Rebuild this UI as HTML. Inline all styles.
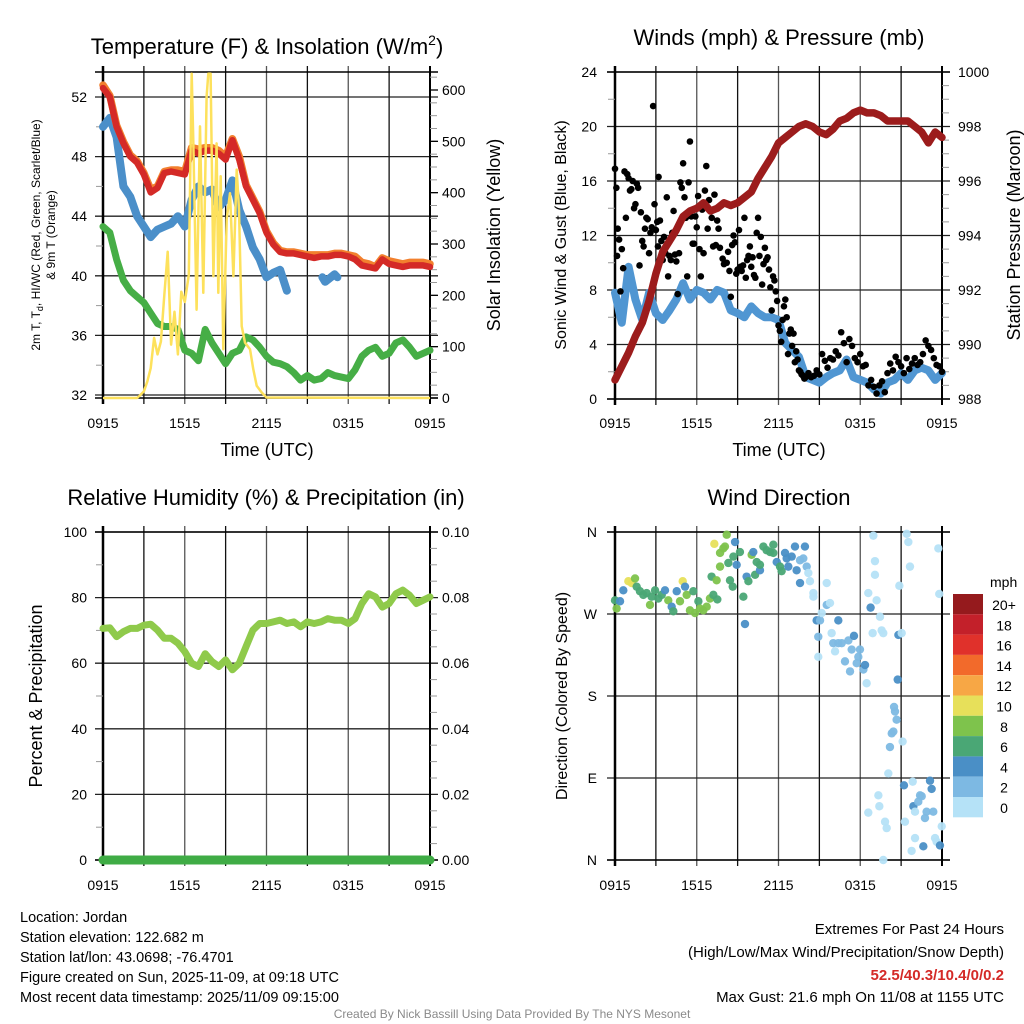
<!DOCTYPE html>
<html><head><meta charset="utf-8"><style>
html,body{margin:0;padding:0;background:#fff;}
svg{display:block;font-family:"Liberation Sans",sans-serif;}
</style></head><body>
<svg id="chart" width="1024" height="1024" viewBox="0 0 1024 1024"></svg>
<script>
// ---------- DATA ----------
const timeTickLabels = ["0915","1515","2115","0315","0915"];
const timeTickHours = [0,6,12,18,24];
const halfHourTimes = [0,0.5,1,1.5,2,2.5,3,3.5,4,4.5,5,5.5,6,6.5,7,7.5,8,8.5,9,9.5,10,10.5,11,11.5,12,12.5,13,13.5,14,14.5,15,15.5,16,16.5,17,17.5,18,18.5,19,19.5,20,20.5,21,21.5,22,22.5,23,23.5,24];
const tempRed = [52.6,52.0,50.0,48.9,48.0,47.6,46.8,45.6,45.9,46.9,47.0,46.9,46.8,48.4,48.2,48.4,48.4,48.2,47.8,49.1,47.8,46.0,45.1,44.2,42.9,42.1,41.6,41.5,41.5,41.4,41.3,41.2,41.3,41.3,41.4,41.4,41.3,41.1,40.7,40.6,40.5,41.1,40.8,40.7,40.6,40.7,40.7,40.7,40.6];
const temp9mOrange = [52.8,52.1,50.1,49.0,48.1,47.7,46.9,45.8,46.0,47.0,47.1,47.1,47.0,48.6,48.5,48.6,48.6,48.4,48.0,49.2,48.0,46.1,45.2,44.3,43.0,42.2,41.7,41.6,41.6,41.5,41.4,41.4,41.4,41.4,41.5,41.5,41.4,41.3,40.9,40.8,40.6,41.2,41.0,40.9,40.8,40.9,40.9,40.9,40.8];
const windChillBlue = [50.0,50.6,49.3,46.0,45.3,44.0,43.3,42.6,43.1,43.3,43.5,44.0,43.3,45.1,46.0,45.6,45.8,44.6,45.1,46.4,44.4,43.3,41.9,41.1,39.9,40.2,40.4,39.0,null,null,null,null,null,null,null,null,null,null,null,null,null,null,null,null,null,null,null,null,null];
const windChillLateTimes = [16.1,16.3,17.0,17.2];
const windChillLate = [39.9,39.6,40.1,39.9];
const dewPointGreen = [43.3,42.9,41.1,39.7,39.0,38.6,38.2,37.5,36.8,36.6,36.6,36.4,35.0,34.8,34.3,36.4,35.5,34.8,34.1,34.8,35.0,35.9,35.7,35.2,34.6,34.2,34.1,33.9,33.5,33.0,33.3,33.0,33.1,33.5,33.3,33.2,33.1,33.7,34.6,35.0,35.2,34.6,34.8,35.5,35.7,35.2,34.6,34.8,35.0];
const solarTimes = [0,2.5,2.75,3,3.25,3.5,3.75,4,4.25,4.5,4.75,5,5.25,5.5,5.75,6,6.3,6.51,6.63,6.87,7.12,7.36,7.6,7.73,7.9,8.1,8.34,8.46,8.64,8.83,9.08,9.32,9.57,9.81,9.98,10.18,10.42,10.79,11.03,11.28,11.64,12.0,24];
const solarValues = [0,0,6,13,32,58,117,85,110,200,285,104,168,85,207,187,240,632,500,172,529,205,587,632,632,237,496,205,432,95,348,399,237,445,367,140,108,95,56,24,11,1,0];
const pressureMaroon = [988.7,989.2,989.7,990.3,990.8,991.6,992.6,993.4,993.8,994.2,994.7,994.9,995.0,995.2,994.9,995.0,995.2,995.1,995.2,995.4,995.6,996.1,996.5,996.9,997.4,997.6,997.8,998.0,998.1,998.0,997.8,997.7,997.9,998.2,998.3,998.5,998.6,998.5,998.5,998.4,998.2,998.2,998.2,998.2,998.0,997.8,997.4,997.8,997.6];
const sonicWind = [7.8,5.6,9.7,7.3,5.8,7.8,6.3,5.8,6.5,7.3,8.5,7.3,8.0,7.8,7.3,8.0,7.8,6.5,6.3,6.0,6.8,6.3,6.0,6.0,5.8,4.1,3.6,3.1,1.6,1.4,1.2,1.6,1.9,2.1,2.9,1.6,1.4,1.2,0.7,0.4,1.2,1.4,1.9,1.4,2.1,2.3,2.1,1.4,1.9];
const gustTimes = [0,0.1,0.15,0.2,0.3,0.4,0.5,0.6,0.7,0.8,0.9,1.0,1.1,1.2,1.3,1.4,1.5,1.6,1.7,1.8,1.9,2.0,2.1,2.2,2.3,2.4,2.5,2.6,2.7,2.8,2.9,3.0,3.1,3.15,3.2,3.3,3.4,3.5,3.6,3.7,3.8,3.9,4.0,4.1,4.2,4.3,4.4,4.5,4.6,4.7,4.8,4.9,5.0,5.1,5.2,5.3,5.4,5.5,5.6,5.7,5.8,5.9,6.0,6.1,6.2,6.3,6.4,6.5,6.6,6.7,6.8,6.9,7.0,7.1,7.2,7.3,7.4,7.5,7.6,7.7,7.8,7.9,8.0,8.1,8.2,8.3,8.4,8.5,8.6,8.7,8.8,8.9,9.0,9.1,9.2,9.3,9.4,9.5,9.6,9.7,9.8,9.9,10.0,10.1,10.2,10.3,10.4,10.5,10.6,10.7,10.8,10.9,11.0,11.1,11.2,11.3,11.4,11.5,11.6,11.7,11.8,11.9,12.0,12.1,12.2,12.3,12.4,12.5,12.6,12.7,12.8,12.9,13.0,13.1,13.2,13.3,13.4,13.5,13.6,13.7,13.8,13.9,14.0,14.2,14.4,14.6,14.8,15.0,15.2,15.4,15.6,15.8,16.0,16.2,16.4,16.6,16.8,17.0,17.2,17.4,17.6,17.8,18.0,18.2,18.4,18.6,18.8,19.0,19.2,19.4,19.6,19.8,20.0,20.2,20.4,20.6,20.8,21.0,21.2,21.4,21.6,21.8,22.0,22.2,22.4,22.6,22.8,23.0,23.2,23.4,23.6,23.8,24.0];
const gustValues = [16.9,15.5,10.5,12.5,11.7,7.9,11,9.6,16.7,13.3,16.5,16.2,15.3,15.4,16,14.0,14.3,15.8,15.5,9.8,13.7,11.6,11.2,12.5,13.3,13.2,10.7,12.2,12.6,21.5,14.3,12.4,13.0,11.2,16.3,13.1,11.6,10.2,11.9,10.7,14.8,9.0,10.5,10.2,12.2,13.8,10.6,10.1,7.7,10.7,15.9,15.5,17.3,14.8,13.3,9.0,15.9,18.9,13.4,11.4,11.4,13.4,12.6,14.9,11.0,9.0,13.9,10.7,15.3,17.1,12.5,14.6,13.8,13.3,11.2,15.0,11.3,13.1,12.5,11.1,14.2,10.3,9.9,10.0,10.0,10.8,9.4,7.5,11.3,12.0,11.5,9.2,9.5,12.4,9.7,9.4,9.8,13.3,8.9,10.2,10.5,11.2,9.7,10.4,9.1,8.9,12.2,13.3,10.5,11.9,8.4,9.9,11.1,10.2,10.4,9.5,8.2,6.5,9.0,8.7,7.9,7.2,5.4,5.0,4.2,5.8,6.8,7.3,6.0,3.3,4.8,5.1,3.9,4.8,2.7,3.5,2.9,2.1,2.0,1.8,1.7,1.5,1.6,1.9,1.6,1.7,2.1,1.8,3.3,2.8,2.3,3.0,2.9,3.5,3.2,4.9,4.1,2.7,4.4,3.9,3.0,2.7,3.3,2.4,2.5,1.0,1.4,0.9,0.4,1.0,1.3,0.5,1.9,2.6,2.1,3.1,2.7,2.4,1.9,3.0,2.2,2.6,3.0,2.5,2.7,3.3,4.3,3.9,3.6,3.0,2.5,2.4,2.0];
const rhValues = [70.6,70.8,68.1,69.6,70.6,70.6,71.6,71.9,70.1,67.6,67.6,66.1,63.5,60.0,59.0,62.9,60.5,59.0,61.0,58.0,60.0,65.1,70.1,72.1,72.1,72.6,73.1,72.1,72.6,71.1,72.6,72.1,72.6,73.6,73.1,73.1,72.1,73.6,78.2,81.2,80.2,77.1,78.2,81.2,82.3,80.7,78.2,79.2,80.2];
const precipValues = [0,0,0,0,0,0,0,0,0,0,0,0,0,0,0,0,0,0,0,0,0,0,0,0,0,0,0,0,0,0,0,0,0,0,0,0,0,0,0,0,0,0,0,0,0,0,0,0,0];
const dirTimes = [0,0.12,0.37,0.61,0.98,1.22,1.47,1.59,1.83,2.08,2.32,2.57,2.69,2.94,3.18,3.43,3.67,3.91,4.16,4.28,4.53,4.77,4.97,5.14,5.26,5.5,5.75,5.87,6.12,6.24,6.48,6.73,6.97,7.22,7.51,7.29,7.09,7.46,7.71,7.71,7.95,8.07,8.2,8.32,8.44,8.64,8.69,8.81,8.93,9.17,9.42,9.54,9.66,9.79,10.03,10.15,10.28,10.4,10.64,10.64,10.89,11.13,11.38,11.62,11.62,11.87,12.11,12.23,12.48,12.6,12.72,12.97,13.21,13.33,13.58,13.82,13.94,14.07,14.19,13.58,14.31,14.56,14.56,14.8,14.92,15.05,14.92,15.17,15.54,15.54,15.78,15.9,16.02,16.15,16.39,16.39,16.64,16.88,17.13,17.25,17.37,17.54,17.74,17.86,17.98,18.23,18.35,18.47,18.59,18.76,18.96,19.08,19.08,19.2,19.45,19.57,19.69,18.91,19.69,19.33,19.4,18.59,19.82,19.94,20.06,20.18,20.31,20.43,20.48,20.55,20.67,20.75,20.8,20.87,21.04,21.11,21.21,21.28,21.41,21.53,21.65,21.77,21.85,21.9,22.02,22.02,22.26,22.39,22.51,22.63,22.75,22.87,23.12,23.24,23.36,23.49,23.61,23.73,23.8,23.85,23.98];
const dirDegrees = [285,276,284,296,306,304,309,300,295,291,293,280,289,296,287,291,296,285,278,273,295,284,306,300,291,274,295,271,284,276,274,278,287,291,286,347,311,307,322,337,342,344,357,326,307,300,333,349,324,338,289,259,311,306,335,338,313,327,318,324,344,340,338,346,337,327,322,317,337,331,322,333,344,318,329,331,344,322,315,304,306,293,289,263,245,263,223,271,304,280,282,249,238,229,263,238,238,218,241,207,231,246,216,223,231,209,214,194,293,277,356,328,313,285,267,252,249,249,0,71,59,52,42,35,95,124,139,141,168,163,154,198,247,301,249,130,82,42,358,349,322,10,86,59,24,53,64,71,70,15,46,53,87,78,53,24,20,342,292,16,37];
const dirSpeeds = [6,8,4,4,10,10,8,6,6,6,6,8,6,6,6,6,4,8,4,6,4,8,10,4,8,8,6,8,6,8,8,8,8,6,6,10,6,8,8,8,8,8,8,6,6,6,6,4,4,6,6,4,4,6,8,4,6,6,4,6,6,6,6,6,6,4,6,6,4,4,4,4,4,4,2,2,4,2,0,4,0,0,0,4,2,2,0,0,0,2,0,0,2,0,4,2,2,2,2,2,2,4,2,2,2,2,4,0,0,4,0,0,0,0,0,0,0,0,0,0,0,0,0,0,0,2,2,2,2,2,2,4,4,0,0,0,4,0,0,0,0,0,0,4,0,0,2,2,2,4,2,2,4,4,2,0,0,0,0,4,0];
const speedLegendLabels = ["20+","18","16","14","12","10","8","6","4","2","0"];
const speedLegendColors = ["#951a1d","#c3202a","#e0312b","#f26a2b","#f7a745","#e7e05a","#7ec34c","#4aa775","#4a8fc6","#7db9e3","#b5e2f7"];

// ---------- HELPERS ----------
const NS = "http://www.w3.org/2000/svg";
const svg = document.getElementById("chart");
function mk(tag, attrs, parent) {
  const el = document.createElementNS(NS, tag);
  for (const k in attrs) el.setAttribute(k, attrs[k]);
  (parent || svg).appendChild(el);
  return el;
}
function txt(s, attrs, parent) { const t = mk("text", attrs, parent); t.textContent = s; return t; }

const P = {
  tl: {x0:103, x1:430, y0:72, y1:398},
  tr: {x0:615, x1:942, y0:72, y1:399},
  bl: {x0:103, x1:430, y0:532, y1:860},
  br: {x0:615, x1:942, y0:532, y1:860}
};
function xScale(p, t) { return p.x0 + t * (p.x1 - p.x0) / 24; }
const yTemp = v => 395 - (v - 32) * 14.9;
const ySolar = v => 398 - v * (308 / 600);
const yWind = v => 399 - v * (327 / 24);
const yPres = v => 399 - (v - 988) * (327 / 12);
const yRH = v => 860 - v * 3.28;
const yPrecip = v => 860 - v * 3280;
const yDir = v => 860 - v * 328 / 360;

function grid(p, yTicks, name) {
  const g = mk("g", {});
  
  
  for (let h = 3; h < 24; h += 3) {
    const x = xScale(p, h);
    mk("line", {x1:x, x2:x, y1:p.y0-6, y2:p.y1+6, stroke:(h%6===0?"#555":"#111"), "stroke-width":1.3}, g);
  }
  yTicks.forEach(y => mk("line", {x1:p.x0-8, x2:p.x1+8, y1:y, y2:y, stroke:"#222", "stroke-width":1.3}, g));
  mk("line", {x1:p.x0, x2:p.x0, y1:p.y0-6, y2:p.y1+6, stroke:"#000", "stroke-width":2.5}, g);
  mk("line", {x1:p.x1, x2:p.x1, y1:p.y0-6, y2:p.y1+6, stroke:"#000", "stroke-width":2}, g);
  mk("line", {x1:p.x0-8, x2:p.x1+8, y1:p.y0, y2:p.y0, stroke:"#000", "stroke-width":1.5}, g);
  mk("line", {x1:p.x0-8, x2:p.x1+8, y1:p.y1, y2:p.y1, stroke:"#000", "stroke-width":1.5}, g);
}
function minorRight(p, vals, f) {
  vals.forEach(v => mk("line", {x1:p.x1, x2:p.x1+7, y1:f(v), y2:f(v), stroke:"#999", "stroke-width":1}));
}
function minorLeft(p, vals, f) {
  vals.forEach(v => mk("line", {x1:p.x0-7, x2:p.x0, y1:f(v), y2:f(v), stroke:"#999", "stroke-width":1}));
}
function xLabels(p, ylab, name) {
  timeTickHours.forEach((h, i) => {
    const t = txt(timeTickLabels[i], {x:xScale(p,h), y:ylab, "text-anchor":"middle", "font-size":14});
    
    
  });
}
function linePath(p, times, vals, yf) {
  let d = "", pen = false;
  times.forEach((t, i) => {
    const v = vals[i];
    if (v === null || v === undefined) { pen = false; return; }
    d += (pen ? "L" : "M") + xScale(p, t).toFixed(1) + " " + yf(v).toFixed(1) + " ";
    pen = true;
  });
  return d;
}

// ---------- TITLES ----------
let e;
e = txt("", {x:267, y:54, "text-anchor":"middle", "font-size":22});
e.innerHTML = 'Temperature (F) &amp; Insolation (W/m<tspan dy="-9" font-size="14">2</tspan><tspan dy="9">)</tspan>';


e = txt("Winds (mph) & Pressure (mb)", {x:779, y:45, "text-anchor":"middle", "font-size":22});


e = txt("Relative Humidity (%) & Precipitation (in)", {x:266, y:505, "text-anchor":"middle", "font-size":22});


e = txt("Wind Direction", {x:779, y:505, "text-anchor":"middle", "font-size":22});



// ---------- PANEL 1: TEMPERATURE ----------
const p1 = P.tl;
const tempTicks = [32,36,40,44,48,52];
grid(p1, tempTicks.map(yTemp), 'temperature');
minorLeft(p1, [34,38,42,46,50], yTemp);
minorRight(p1, [25,50,75,100,125,150,175,200,225,250,275,300,325,350,375,400,425,450,475,500,525,550,575,600,625], ySolar);
[0,100,200,300,400,500,600].forEach(v => mk("line", {x1:p1.x1, x2:p1.x1+8, y1:ySolar(v), y2:ySolar(v), stroke:"#000", "stroke-width":1.3}));
tempTicks.forEach(v => {
  e = txt(String(v), {x:87, y:yTemp(v)+5, "text-anchor":"end", "font-size":14});
  
  
});
[0,100,200,300,400,500,600].forEach(v => {
  e = txt(String(v), {x:442, y:ySolar(v)+5, "font-size":14});
  
  
});
xLabels(p1, 428, 'temperature');
e = txt("Time (UTC)", {x:267, y:456, "text-anchor":"middle", "font-size":18});


e = txt("", {transform:"translate(40,235) rotate(-90)", "text-anchor":"middle", "font-size":12});
e.innerHTML = '2m T, T<tspan dy="3" font-size="9">d</tspan><tspan dy="-3">, HI/WC (Red, Green, Scarlet/Blue)</tspan>';


e = txt("& 9m T (Orange)", {transform:"translate(55,235) rotate(-90)", "text-anchor":"middle", "font-size":12});


e = txt("Solar Insolation (Yellow)", {transform:"translate(500,235) rotate(-90)", "text-anchor":"middle", "font-size":18});



e = mk("path", {d:linePath(p1, halfHourTimes, dewPointGreen, yTemp), fill:"none", stroke:"#46ae46", "stroke-width":7, "stroke-linejoin":"round", "stroke-linecap":"round"});


e = mk("path", {d:linePath(p1, halfHourTimes, windChillBlue, yTemp) + linePath(p1, windChillLateTimes, windChillLate, yTemp), fill:"none", stroke:"#4b8fc9", "stroke-width":8, "stroke-linejoin":"round", "stroke-linecap":"round"});


e = mk("path", {d:linePath(p1, halfHourTimes, temp9mOrange, yTemp), fill:"none", stroke:"#f2802e", "stroke-width":7.5, "stroke-linejoin":"round", "stroke-linecap":"round"});


e = mk("path", {d:linePath(p1, halfHourTimes, tempRed, yTemp), fill:"none", stroke:"#d42a27", "stroke-width":6.5, "stroke-linejoin":"round", "stroke-linecap":"round"});


e = mk("path", {d:linePath(p1, solarTimes, solarValues, ySolar), fill:"none", stroke:"#fde15c", "stroke-width":2.5, "stroke-linejoin":"round"});



// ---------- PANEL 2: WINDS ----------
const p2 = P.tr;
const windTicks = [0,4,8,12,16,20,24];
grid(p2, windTicks.map(yWind), 'winds');
minorLeft(p2, [2,6,10,14,18,22], yWind);
minorRight(p2, [988.5,989,989.5,990.5,991,991.5,992.5,993,993.5,994.5,995,995.5,996.5,997,997.5,998.5,999,999.5], yPres);
windTicks.forEach(v => {
  e = txt(String(v), {x:597, y:yWind(v)+5, "text-anchor":"end", "font-size":14});
  
  
});
[988,990,992,994,996,998,1000].forEach(v => {
  e = txt(String(v), {x:958, y:yPres(v)+5, "font-size":14});
  
  
});
xLabels(p2, 428, 'winds');
e = txt("Time (UTC)", {x:779, y:456, "text-anchor":"middle", "font-size":18});


e = txt("Sonic Wind & Gust (Blue, Black)", {transform:"translate(566,235) rotate(-90)", "text-anchor":"middle", "font-size":16});


e = txt("Station Pressure (Maroon)", {transform:"translate(1020,235) rotate(-90)", "text-anchor":"middle", "font-size":18});


e = mk("path", {d:linePath(p2, halfHourTimes, sonicWind, yWind), fill:"none", stroke:"#5096d2", "stroke-width":8, "stroke-linejoin":"round", "stroke-linecap":"round"});


gustTimes.forEach((t, i) => {
  const c = mk("circle", {cx:xScale(p2,t), cy:yWind(gustValues[i]), r:3.3, fill:"#000"});
  
  
});
e = mk("path", {d:linePath(p2, halfHourTimes, pressureMaroon, yPres), fill:"none", stroke:"#9c1c1c", "stroke-width":7.5, "stroke-linejoin":"round", "stroke-linecap":"round"});



// ---------- PANEL 3: HUMIDITY ----------
const p3 = P.bl;
const rhTicks = [0,20,40,60,80,100];
grid(p3, rhTicks.map(yRH), 'humidity');
minorLeft(p3, [10,30,50,70,90], yRH);
minorRight(p3, [5,10,15,25,30,35,45,50,55,65,70,75,85,90,95], yRH);
rhTicks.forEach(v => {
  e = txt(String(v), {x:87, y:yRH(v)+5, "text-anchor":"end", "font-size":14});
  
  
});
["0.00","0.02","0.04","0.06","0.08","0.10"].forEach((s, i) => {
  e = txt(s, {x:442, y:yRH(i*20)+5, "font-size":14});
  
  
});
xLabels(p3, 890, 'humidity');
e = txt("Percent & Precipitation", {transform:"translate(42,696) rotate(-90)", "text-anchor":"middle", "font-size":18});


e = mk("path", {d:linePath(p3, halfHourTimes, rhValues, yRH), fill:"none", stroke:"#8fca4b", "stroke-width":7, "stroke-linejoin":"round", "stroke-linecap":"round"});


e = mk("path", {d:linePath(p3, halfHourTimes, precipValues, yPrecip), fill:"none", stroke:"#3fac45", "stroke-width":9, "stroke-linecap":"round"});



// ---------- PANEL 4: WIND DIRECTION ----------
const p4 = P.br;
const dirTickVals = [360,270,180,90,0];
const dirTickLabels = ["N","W","S","E","N"];
grid(p4, dirTickVals.map(yDir), 'wind-direction');
dirTickVals.forEach((v, i) => {
  e = txt(dirTickLabels[i], {x:597, y:yDir(v)+5, "text-anchor":"end", "font-size":14});
  
  
});
xLabels(p4, 890, 'wind-direction');
e = txt("Direction (Colored By Speed)", {transform:"translate(567,696) rotate(-90)", "text-anchor":"middle", "font-size":16});


function speedColor(s) {
  const idx = Math.min(10, Math.floor(s / 2));
  return speedLegendColors[10 - idx];
}
dirTimes.forEach((t, i) => {
  const c = mk("circle", {cx:xScale(p4,t), cy:yDir(dirDegrees[i]), r:4.2, fill:speedColor(dirSpeeds[i]), opacity:0.95});
  
  
});
e = txt("mph", {x:990, y:587, "font-size":14});


speedLegendLabels.forEach((s, i) => {
  const r = mk("rect", {x:953, y:594 + i*20.3, width:30, height:20.3, fill:speedLegendColors[i]});
  
  
  const t = txt(s, {x:1004, y:610 + i*20.3, "text-anchor":"middle", "font-size":14});
  
  
});

// ---------- FOOTER TEXT ----------
["Location: Jordan","Station elevation: 122.682 m","Station lat/lon: 43.0698; -76.4701","Figure created on Sun, 2025-11-09, at 09:18 UTC","Most recent data timestamp: 2025/11/09 09:15:00"].forEach((s, i) => {
  const t = txt(s, {x:20, y:922 + i*20, "font-size":14.5});
  
  
});
e = txt("Extremes For Past 24 Hours", {x:1004, y:934, "text-anchor":"end", "font-size":15});


e = txt("(High/Low/Max Wind/Precipitation/Snow Depth)", {x:1004, y:957, "text-anchor":"end", "font-size":15});


e = txt("52.5/40.3/10.4/0/0.2", {x:1004, y:980, "text-anchor":"end", "font-size":15, "font-weight":"bold", fill:"#d42a27"});


e = txt("Max Gust: 21.6 mph On 11/08 at 1155 UTC", {x:1004, y:1002, "text-anchor":"end", "font-size":15});


e = txt("Created By Nick Bassill Using Data Provided By The NYS Mesonet", {x:512, y:1018, "text-anchor":"middle", "font-size":12, fill:"#8a8a8a"});


</script>
</body></html>
